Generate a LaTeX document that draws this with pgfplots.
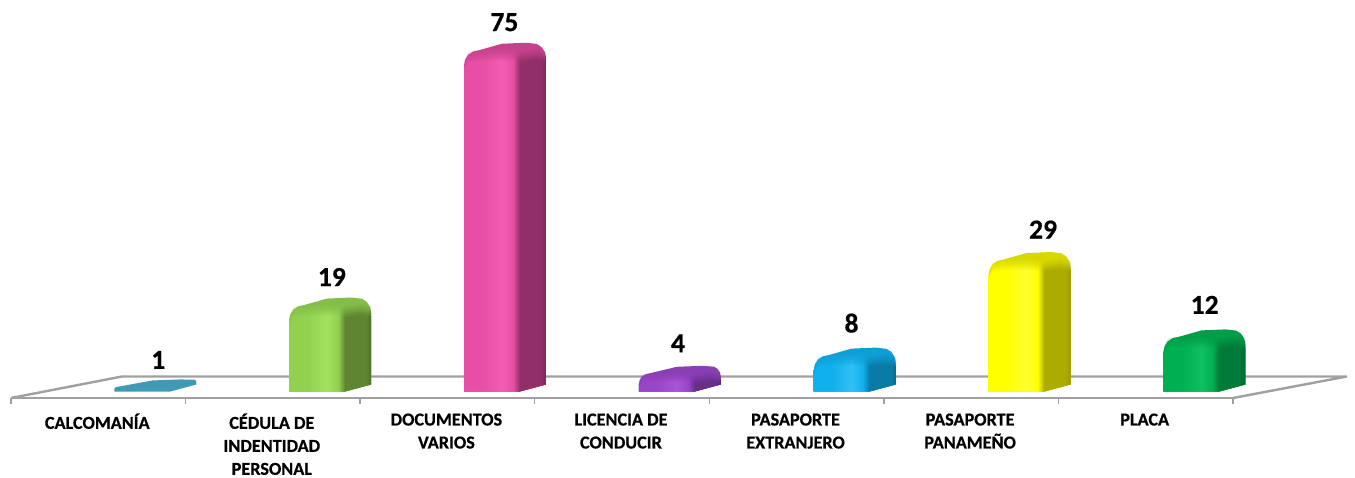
\documentclass[border=0pt]{standalone}
\usepackage{pgfplots}
\pgfplotsset{compat=1.18}
\usepackage{fontspec}
\setmainfont[BoldFeatures={FakeBold=0.6}]{Carlito}
\definecolor{floorgray}{HTML}{A0A0A0}
% colours and shading of one bar: #1 name, #2 base, #3 light, #4 top, #5 side, #6 side edge
\newcommand\barcolours[6]{%
  \definecolor{base#1}{HTML}{#2}\definecolor{light#1}{HTML}{#3}%
  \definecolor{top#1}{HTML}{#4}\definecolor{side#1}{HTML}{#5}\definecolor{edge#1}{HTML}{#6}%
  \pgfdeclarehorizontalshading{body#1}{100bp}{color(0bp)=(base#1); color(36bp)=(base#1);
    color(48bp)=(light#1); color(55bp)=(base#1); color(59bp)=(side#1); color(72bp)=(side#1);
    color(75bp)=(edge#1); color(100bp)=(edge#1)}}
\barcolours{A}{4BACC6}{5CC0DA}{3E9AB5}{2F7F98}{276C82}
\barcolours{B}{92D050}{A2E25E}{84BE48}{5F8532}{4F7029}
\barcolours{C}{E64FA3}{F25CB2}{C6428D}{912F69}{7E285B}
\barcolours{D}{9A45C8}{AA55D8}{8A3EB4}{682F88}{592775}
\barcolours{E}{10B0EC}{30C0F4}{0E9FD6}{0A7AA6}{086A90}
\barcolours{F}{FFFF00}{FFFF30}{D8D800}{ABAB00}{9A9A00}
\barcolours{G}{00B050}{10C060}{009E48}{007A38}{006A30}
% a point: px right of the bar's front left corner, px above the base
\newcommand\pt[2]{(\fpeval{\I+(16+0.3*\I+(#1))/174.6},\fpeval{(#2)/4.55})}
% one layer of the front and side faces, its top #1 px below the top of the front
\newcommand\bodylayer[2]{%
  \edef\d{\fpeval{#1}}%
  \edef\tmp{\noexpand\addplot[draw=none,shading=body\N,opacity=#2] coordinates {
    \pt{0}{0} \pt{0}{\H-\r} \pt{0.08*\r}{\H-\d-0.55*\r} \pt{0.29*\r}{\H-\d-0.1*\r}
    \pt{\r}{\H-\d} \pt{50}{\H-\d} \pt{56}{\H-\d-1.5} \pt{72}{\H-\d+1} \pt{82}{\H-\d-1}
    \pt{82}{7} \pt{56}{0} \pt{0}{0}};}\tmp}
\newcommand\tdbar[3]{% #1 category, #2 value, #3 colour name
  \def\I{#1}\def\N{#3}%
  \edef\H{\fpeval{4.55*#2}}%
  \edef\r{\fpeval{min(15,0.6*\H)}}%
  \edef\dd{\fpeval{min(10,0.45*\H)}}%
  \edef\tmp{\noexpand\addplot[draw=none,fill=top#3] coordinates {
    \pt{0}{0} \pt{0}{\H-\r} \pt{0.08*\r}{\H-0.62*\r} \pt{0.29*\r}{\H-0.29*\r}
    \pt{0.62*\r}{\H-0.08*\r} \pt{\r}{\H} \pt{38}{\H+6.5} \pt{67-\r/3}{\H+7.5} \pt{82-0.62*\r}{\H+7.5-0.08*\r}
    \pt{82-0.29*\r}{\H+7.5-0.29*\r} \pt{82-0.08*\r}{\H+7.5-0.62*\r} \pt{82}{\H+7.5-\r}
    \pt{82}{7} \pt{56}{0} \pt{0}{0}};}\tmp
  \ifdim\H pt>10pt
    \bodylayer{0.0*\dd}{0.15}\bodylayer{0.25*\dd}{0.2}\bodylayer{0.5*\dd}{0.3}\bodylayer{0.75*\dd}{0.5}\bodylayer{\dd}{1}%
  \fi
}
\begin{document}
\begin{tikzpicture}
\path[use as bounding box] (-11pt,-79pt) rectangle (1344pt,398pt);
\begin{axis}[
  overlay,
  scale only axis, width=1222pt, height=398pt,
  xmin=-0.5, xmax=6.5, ymin=-1.4286, ymax=86.04,
  clip=false,
  axis y line=none,
  axis x line*=bottom,
  axis line style={floorgray, line width=2.8pt, -},
  xtick={0,1,2,3,4,5,6},
  xticklabels={CALCOMANÍA,CÉDULA DE\\INDENTIDAD\\PERSONAL,DOCUMENTOS\\VARIOS,LICENCIA DE\\CONDUCIR,PASAPORTE\\EXTRANJERO,PASAPORTE\\PANAMEÑO,PLACA},
  major tick length=0pt,
  minor xtick={-0.5,0.5,1.5,2.5,3.5,4.5,5.5,6.5},
  minor tick length=6pt,
  tick align=outside,
  minor tick style={floorgray, line width=1.5pt},
  xticklabel style={font=\bfseries\fontsize{18.2}{23}\selectfont, align=center, anchor=north, yshift=-12pt, xshift=-1pt},
  /pgf/number format/assume math mode=true,
]
\addplot[floorgray, line width=2.4pt] coordinates {(-0.5,-1.4286) (0.136,3.3) (7.153,3.3) (6.5,-1.4286)};
\tdbar{0}{1}{A}
\tdbar{1}{19}{B}
\tdbar{2}{75}{C}
\tdbar{3}{4}{D}
\tdbar{4}{8}{E}
\tdbar{5}{29}{F}
\tdbar{6}{12}{G}
\addplot[draw=none, mark=none,
  point meta=explicit,
  visualization depends on={\thisrow{lx} \as \lx},
  visualization depends on={\thisrow{ly} \as \ly},
  nodes near coords,
  every node near coord/.append style={font=\bfseries\fontsize{27.5}{27.5}\selectfont, anchor=center, xshift=\lx pt, yshift=\ly pt, inner sep=0pt}]
  table[x=x, y=v, meta=v] {
  x v lx ly
  0 1 60 27
  1 19 59 28
  2 75 57 28
  3 4 56 30
  4 8 55 32
  5 29 72 30
  6 12 59 32
};
\end{axis}
\end{tikzpicture}
\end{document}
